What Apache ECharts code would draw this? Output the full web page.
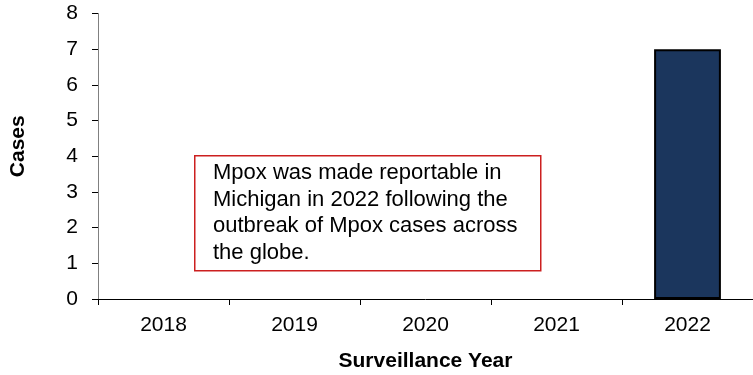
<!DOCTYPE html>
<html>
<head>
<meta charset="utf-8">
<script src="https://cdn.jsdelivr.net/npm/echarts@6/dist/echarts.min.js"></script>
<style>
html, body { margin: 0; padding: 0; background: #fff; }
#chart { width: 753px; height: 375px; }
</style>
</head>
<body>
<div id="chart"></div>
<script>
var years = ['2018', '2019', '2020', '2021', '2022'];
var cases = [null, null, null, null, 7];
var yTicks = [0, 1, 2, 3, 4, 5, 6, 7, 8];
var noteLines = [
	'Mpox was made reportable in',
	'Michigan in 2022 following the',
	'outbreak of Mpox cases across',
	'the globe.'
];

var chart = echarts.init(document.getElementById('chart'));
var font = '"Liberation Sans", Arial, sans-serif';

var option = {
	animation: false,
	grid: {
		left: 98,
		right: 0,
		top: 13.5,
		bottom: 76,
		outerBoundsMode: 'none',
		containLabel: false
	},
	xAxis: {
		type: 'category',
		data: years,
		boundaryGap: true,
		name: 'Surveillance Year',
		nameLocation: 'middle',
		nameGap: 52,
		nameTextStyle: { fontFamily: font, fontSize: 21, fontWeight: 'bold', color: '#000' },
		axisLine: { lineStyle: { color: '#000', width: 1 } },
		axisTick: { show: true, length: 6, lineStyle: { color: '#000' } },
		axisLabel: { fontFamily: font, fontSize: 21, color: '#000', margin: 16 },
		splitLine: { show: false }
	},
	yAxis: {
		type: 'value',
		min: yTicks[0],
		max: yTicks[yTicks.length - 1],
		interval: 1,
		name: 'Cases',
		nameLocation: 'middle',
		nameGap: 69,
		nameRotate: 90,
		nameTextStyle: { fontFamily: font, fontSize: 21, fontWeight: 'bold', color: '#000', padding: [0, 0, 0, 20] },
		axisLine: { show: true, lineStyle: { color: '#808080', width: 1 } },
		axisTick: { show: true, length: 6, lineStyle: { color: '#000' } },
		axisLabel: { fontFamily: font, fontSize: 21, color: '#000', margin: 20 },
		splitLine: { show: false }
	},
	series: [{
		type: 'bar',
		data: cases,
		barWidth: '51%',
		itemStyle: {
			color: '#1b365d',
			borderColor: '#000',
			borderWidth: 2
		}
	}],
	graphic: [{
		type: 'rect',
		left: 194,
		top: 155,
		shape: { width: 346, height: 115 },
		style: { fill: '#fff', stroke: '#cc1f1f', lineWidth: 1.5 }
	}, {
		type: 'text',
		left: 213,
		top: 160,
		style: {
			text: noteLines.join('\n'),
			font: '22px "Liberation Sans", Arial, sans-serif',
			fill: '#000',
			lineHeight: 26.5
		}
	}]
};
chart.setOption(option);
</script>
</body>
</html>
